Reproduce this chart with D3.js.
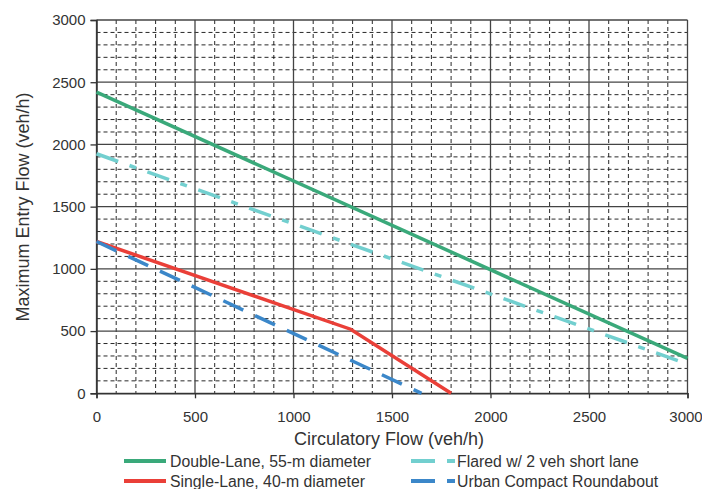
<!DOCTYPE html>
<html>
<head>
<meta charset="utf-8">
<script src="https://cdn.jsdelivr.net/npm/d3@7"></script>
<style>
  body { margin: 0; background: #fff; }
  text { font-family: "Liberation Sans", Arial, sans-serif; fill: #333; }
</style>
</head>
<body>
<svg id="chart" width="702" height="489"></svg>
<script>
// chart values
const xTicks = [0, 500, 1000, 1500, 2000, 2500, 3000];
const yTicks = [0, 500, 1000, 1500, 2000, 2500, 3000];

const doubleLaneX = [0, 3000];
const doubleLaneY = [2420, 280];
const flaredX = [0, 3000];
const flaredY = [1925, 235];
const singleLaneX = [0, 1290, 1800];
const singleLaneY = [1220, 515, 0];
const urbanX = [0, 1650];
const urbanY = [1220, 0];

const seriesNames = [
  "Double-Lane, 55-m diameter",
  "Flared w/ 2 veh short lane",
  "Single-Lane, 40-m diameter",
  "Urban Compact Roundabout"
];

const svg = d3.select("#chart");
const plotLeft = 96.5, plotRight = 687.5, plotTop = 20, plotBottom = 393.3;

const x = d3.scaleLinear().domain([0, 3000]).range([plotLeft, plotRight]);
const y = d3.scaleLinear().domain([0, 3000]).range([plotBottom, plotTop]);

// minor grid (every 100)
const minor = d3.range(100, 3000, 100).filter((v) => v % 500 !== 0);
const grid = svg.append("g");
grid.selectAll(".vmin")
  .data(minor)
  .enter()
  .append("line")
  .attr("x1", (d) => x(d)).attr("x2", (d) => x(d))
  .attr("y1", plotTop).attr("y2", plotBottom)
  .attr("stroke", "#111")
  .attr("stroke-width", 0.9)
  .attr("stroke-dasharray", "4,3");
grid.selectAll(".hmin")
  .data(minor)
  .enter()
  .append("line")
  .attr("y1", (d) => y(d)).attr("y2", (d) => y(d))
  .attr("x1", plotLeft).attr("x2", plotRight)
  .attr("stroke", "#111")
  .attr("stroke-width", 0.9)
  .attr("stroke-dasharray", "4,3");

// major grid
grid.selectAll(".vmaj")
  .data(xTicks)
  .enter()
  .append("line")
  .attr("x1", (d) => x(d)).attr("x2", (d) => x(d))
  .attr("y1", plotTop).attr("y2", plotBottom)
  .attr("stroke", "#444")
  .attr("stroke-width", 1.3);
grid.selectAll(".hmaj")
  .data(yTicks)
  .enter()
  .append("line")
  .attr("y1", (d) => y(d)).attr("y2", (d) => y(d))
  .attr("x1", plotLeft).attr("x2", plotRight)
  .attr("stroke", "#444")
  .attr("stroke-width", 1.3);

// axes
const xAxis = svg.append("g")
  .attr("transform", `translate(0,${plotBottom})`)
  .call(d3.axisBottom(x).tickValues(xTicks).tickFormat(d3.format("d")).tickSize(5).tickPadding(13));
const yAxis = svg.append("g")
  .attr("transform", `translate(${plotLeft},0)`)
  .call(d3.axisLeft(y).tickValues(yTicks).tickFormat(d3.format("d")).tickSize(6).tickPadding(5));

[xAxis, yAxis].forEach((ax) => {
  ax.select(".domain").attr("stroke", "#333").attr("stroke-width", 1.5);
  ax.selectAll(".tick line").attr("stroke", "#333").attr("stroke-width", 1.3);
  ax.selectAll(".tick text")
    .attr("font-family", "Liberation Sans, Arial, sans-serif")
    .attr("font-size", 15)
    .attr("fill", "#333");
});
// last x label sits at the very edge of the picture
xAxis.selectAll(".tick text").filter((d) => d === 3000).attr("dx", -2);

// series
const line = d3.line().x((d) => x(d[0])).y((d) => y(d[1]));
const zip = (xs, ys) => xs.map((v, i) => [v, ys[i]]);

const series = [
  { pts: zip(doubleLaneX, doubleLaneY), color: "#3aa97a", dash: null },
  { pts: zip(flaredX, flaredY), color: "#72cfcf", dash: "23,12,7,12" },
  { pts: zip(singleLaneX, singleLaneY), color: "#ea3f38", dash: null },
  { pts: zip(urbanX, urbanY), color: "#3b87c9", dash: "22,13" }
];

svg.append("g")
  .selectAll("path")
  .data(series)
  .enter()
  .append("path")
  .attr("d", (d) => line(d.pts))
  .attr("fill", "none")
  .attr("stroke", (d) => d.color)
  .attr("stroke-width", 3.5)
  .attr("stroke-dasharray", (d) => d.dash);

// axis titles
svg.append("text")
  .attr("x", 389)
  .attr("y", 445)
  .attr("text-anchor", "middle")
  .attr("font-size", 18)
  .text("Circulatory Flow (veh/h)");

svg.append("text")
  .attr("transform", `translate(29,207) rotate(-90)`)
  .attr("text-anchor", "middle")
  .attr("font-size", 18)
  .text("Maximum Entry Flow (veh/h)");

// legend
const legendPos = [
  { x: 124, y: 461, split: false },
  { x: 411, y: 461, split: true },
  { x: 124, y: 481, split: false },
  { x: 411, y: 481, split: true }
];
const legend = svg.append("g");
series.forEach((s, i) => {
  const p = legendPos[i];
  if (p.split) {
    legend.append("line")
      .attr("x1", p.x).attr("x2", p.x + 24)
      .attr("y1", p.y).attr("y2", p.y)
      .attr("stroke", s.color).attr("stroke-width", 4);
    legend.append("line")
      .attr("x1", p.x + 36).attr("x2", p.x + 44)
      .attr("y1", p.y).attr("y2", p.y)
      .attr("stroke", s.color).attr("stroke-width", 4);
  } else {
    legend.append("line")
      .attr("x1", p.x).attr("x2", p.x + 42)
      .attr("y1", p.y).attr("y2", p.y)
      .attr("stroke", s.color).attr("stroke-width", 4);
  }
  legend.append("text")
    .attr("x", p.x + 46)
    .attr("y", p.y + 5.5)
    .attr("font-size", 15.8)
    .text(seriesNames[i]);
});
</script>
</body>
</html>
